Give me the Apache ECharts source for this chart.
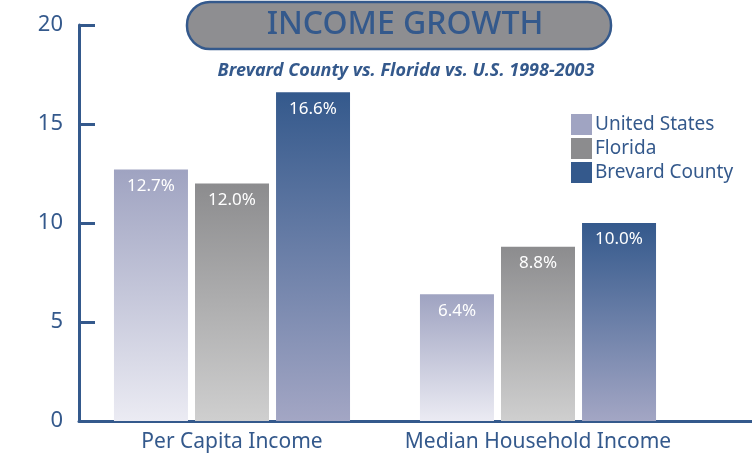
<!DOCTYPE html>
<html>
<head>
<meta charset="utf-8">
<script src="https://cdn.jsdelivr.net/npm/echarts@6/dist/echarts.min.js"></script>
<style>
  html, body { margin: 0; padding: 0; background: #fff; }
  #chart { width: 752px; height: 460px; }
</style>
</head>
<body>
<div id="chart"></div>
<script>
  var categories = ['Per Capita Income', 'Median Household Income']
  var seriesNames = ['United States', 'Florida', 'Brevard County']
  var usValues = [12.7, 6.4]
  var floridaValues = [12.0, 8.8]
  var brevardValues = [16.6, 10.0]
  var yTicks = [0, 5, 10, 15, 20]

  var blue = '#34598c'
  var font = 'Noto Sans'

  // 每个系列的渐变色：上深下浅
  var grads = [
    ['#9fa3c1', '#ebebf3'],
    ['#8c8c8e', '#cfcfcf'],
    ['#34598c', '#a3a6c4']
  ]
  var solid = ['#a0a4c2', '#8c8c8e', '#34598c']

  function grad(c) {
    return new echarts.graphic.LinearGradient(0, 0, 0, 1, [
      { offset: 0, color: c[0] },
      { offset: 1, color: c[1] }
    ])
  }

  var myChart = echarts.init(document.getElementById('chart'))

  var values = [usValues, floridaValues, brevardValues]
  var series = values.map(function (v, i) {
    return {
      name: seriesNames[i],
      type: 'bar',
      data: v,
      barWidth: 74,
      barGap: '9.5%',
      itemStyle: { color: grad(grads[i]) },
      label: {
        show: true,
        position: 'insideTop',
        distance: 8,
        color: '#fff',
        fontFamily: font,
        fontSize: 17,
        formatter: function (p) { return p.value.toFixed(1) + '%' }
      }
    }
  })

  var option = {
    backgroundColor: '#fff',
    animation: false,
    grid: { left: 79, right: 61, top: 25, bottom: 39 },
    title: [{
      text: 'INCOME GROWTH',
      left: 400,
      top: 4,
      textAlign: 'center',
      textStyle: { color: blue, fontFamily: font, fontSize: 32, fontWeight: 500 }
    }, {
      text: 'Brevard County vs. Florida vs. U.S. 1998-2003',
      left: 401,
      top: 57,
      textAlign: 'center',
      textStyle: { color: blue, fontFamily: font, fontSize: 18, fontWeight: 'bold', fontStyle: 'italic' }
    }],
    graphic: [{
      type: 'rect',
      z: -1,
      shape: { x: 187, y: 2, width: 424, height: 47, r: 23 },
      style: { fill: '#8e8e91', stroke: blue, lineWidth: 2.5 }
    }, {
      // x轴线延伸到右边
      type: 'line',
      shape: { x1: 685, y1: 421.5, x2: 752, y2: 421.5 },
      style: { stroke: blue, lineWidth: 3 }
    }],
    legend: {
      orient: 'vertical',
      left: 566,
      top: 109,
      itemWidth: 21,
      itemHeight: 21,
      itemGap: 3,
      icon: 'rect',
      textStyle: { color: blue, fontFamily: font, fontSize: 19, padding: [0, 0, 0, -2] },
      data: seriesNames.map(function (n, i) {
        return { name: n, itemStyle: { color: solid[i] } }
      })
    },
    xAxis: {
      type: 'category',
      data: categories,
      axisTick: { show: false },
      axisLine: { lineStyle: { color: blue, width: 3 } },
      axisLabel: { interval: 0, color: blue, fontFamily: font, fontSize: 21, margin: 11 }
    },
    yAxis: {
      type: 'value',
      min: yTicks[0],
      max: yTicks[yTicks.length - 1],
      interval: 5,
      splitLine: { show: false },
      axisLine: { show: true, lineStyle: { color: blue, width: 3 } },
      axisTick: { show: true, inside: true, length: 16, lineStyle: { color: blue, width: 3 } },
      axisLabel: { color: blue, fontFamily: font, fontSize: 22, margin: 16 }
    },
    series: series
  }

  myChart.setOption(option)
</script>
</body>
</html>
